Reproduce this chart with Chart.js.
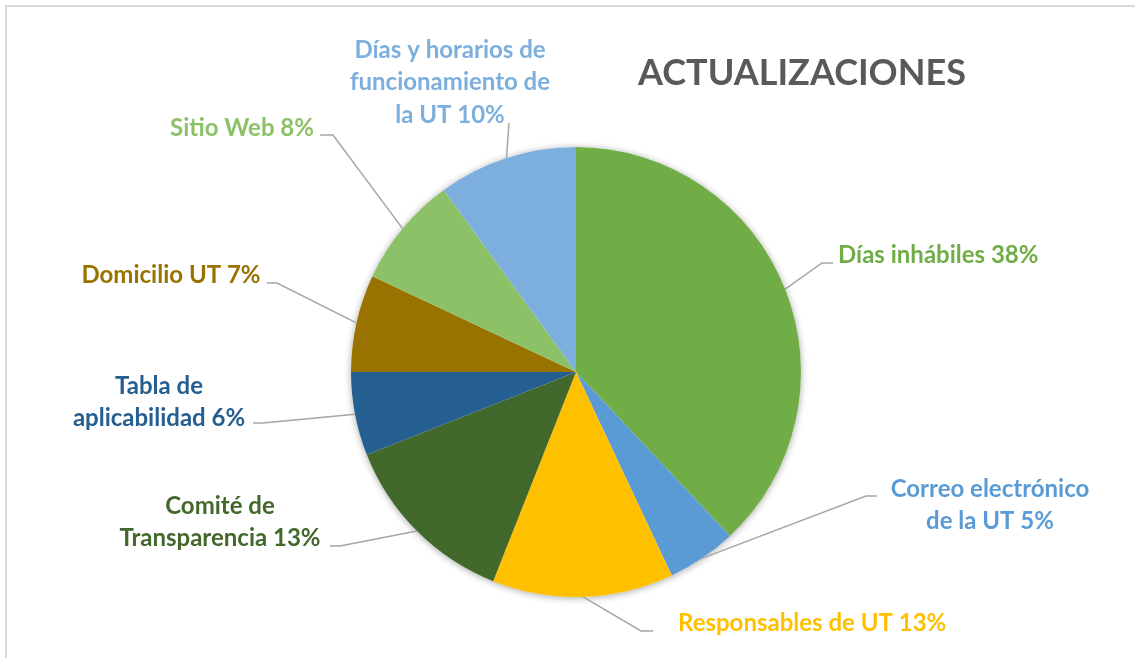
<!DOCTYPE html>
<html>
<head>
<meta charset="utf-8">
<script src="https://cdn.jsdelivr.net/npm/chart.js@4.4.0/dist/chart.umd.min.js"></script>
<style>
    html, body { margin: 0; padding: 0; background: #fff; overflow: hidden; }
    #marco { position: absolute; left: 5px; top: 5px; width: 1135px; height: 660px;
             border-top: 2px solid #d9d9d9; border-left: 2px solid #d9d9d9; }
    #contenedor { position: absolute; left: 0; top: 0; width: 1135px; height: 658px; }
</style>
</head>
<body>
<div id="marco"></div>
<div id="contenedor"><canvas id="myChart"></canvas></div>
<script>
let titulo = "ACTUALIZACIONES";
let categorias = [
    "Días inhábiles",
    "Correo electrónico de la UT",
    "Responsables de UT",
    "Comité de Transparencia",
    "Tabla de aplicabilidad",
    "Domicilio UT",
    "Sitio Web",
    "Días y horarios de funcionamiento de la UT"
];
let porcentajes = [38, 5, 13, 13, 6, 7, 8, 10];
let colores = ["#70AD47", "#5B9BD5", "#FFC000", "#43682B", "#255E91", "#997300", "#8CC168", "#7CAFDD"];

// donde va cada etiqueta (codo de la linea, fin de la linea, texto)
let posiciones = [
    { codo: [822, 263], fin: [833, 263], x: 838, y: 255, align: "left", ancho: 400 },
    { codo: [866, 496], fin: [877, 496], x: 990, y: 489, align: "center", ancho: 215 },
    { codo: [641, 631], fin: [653, 631], x: 678, y: 623, align: "left", ancho: 400 },
    { codo: [340, 546], fin: [330, 546], x: 220, y: 506, align: "center", ancho: 215 },
    { codo: [263, 423], fin: [253, 423], x: 159, y: 386, align: "center", ancho: 190 },
    { codo: [277, 283], fin: [267, 283], x: 171, y: 275, align: "center", ancho: 400 },
    { codo: [333, 135], fin: [320, 135], x: 242, y: 128, align: "center", ancho: 400 },
    { codo: [509, 123], fin: [509, 123], x: 450, y: 50, align: "center", ancho: 212 }
];
let fuente = "Lato, 'Open Sans', sans-serif";

function partirTexto(ctx, texto, ancho) {
    let palabras = texto.split(" ");
    let lineas = [];
    let actual = "";
    palabras.forEach((p) => {
        let prueba = actual ? actual + " " + p : p;
        if (ctx.measureText(prueba).width > ancho && actual) {
            lineas.push(actual);
            actual = p;
        } else {
            actual = prueba;
        }
    });
    lineas.push(actual);
    return lineas;
}

const etiquetasPlugin = {
    id: "etiquetas",
    beforeDatasetsDraw(chart) {
        // sombra suave debajo del pastel
        const arco = chart.getDatasetMeta(0).data[0];
        const ctx = chart.ctx;
        ctx.save();
        ctx.shadowColor = "rgba(0,0,0,0.35)";
        ctx.shadowBlur = 7;
        ctx.shadowOffsetY = 1;
        ctx.fillStyle = "#fff";
        ctx.beginPath();
        ctx.arc(arco.x, arco.y, arco.outerRadius, 0, Math.PI * 2);
        ctx.fill();
        ctx.restore();
    },
    afterDraw(chart) {
        const ctx = chart.ctx;
        const meta = chart.getDatasetMeta(0);
        ctx.save();
        ctx.font = "bold 36px " + fuente;
        ctx.fillStyle = "#595959";
        ctx.textAlign = "left";
        ctx.textBaseline = "middle";
        ctx.fillText(titulo, 638, 73);

        meta.data.forEach((arco, i) => {
            const p = posiciones[i];
            const ang = (arco.startAngle + arco.endAngle) / 2;
            const x0 = arco.x + Math.cos(ang) * arco.outerRadius;
            const y0 = arco.y + Math.sin(ang) * arco.outerRadius;
            ctx.strokeStyle = "#a6a6a6";
            ctx.lineWidth = 1.5;
            ctx.beginPath();
            ctx.moveTo(x0, y0);
            ctx.lineTo(p.codo[0], p.codo[1]);
            ctx.lineTo(p.fin[0], p.fin[1]);
            ctx.stroke();

            ctx.font = "bold 24px " + fuente;
            ctx.fillStyle = colores[i];
            ctx.textAlign = p.align;
            ctx.textBaseline = "middle";
            const texto = categorias[i] + " " + porcentajes[i] + "%";
            const lineas = partirTexto(ctx, texto, p.ancho);
            lineas.forEach((l, k) => {
                ctx.fillText(l, p.x, p.y + k * 32.5);
            });
        });
        ctx.restore();
    }
};

const config = () => {
    var myPieChart = new Chart(document.getElementById("myChart"), {
        type: "pie",
        data: {
            labels: categorias,
            datasets: [{
                data: porcentajes,
                backgroundColor: colores,
                borderWidth: 0
            }]
        },
        options: {
            responsive: true,
            maintainAspectRatio: false,
            animation: false,
            layout: { padding: { top: 147, bottom: 61, left: 351, right: 334 } },
            plugins: {
                legend: { display: false },
                tooltip: { enabled: false }
            }
        },
        plugins: [etiquetasPlugin]
    });
};

config();
</script>
</body>
</html>
